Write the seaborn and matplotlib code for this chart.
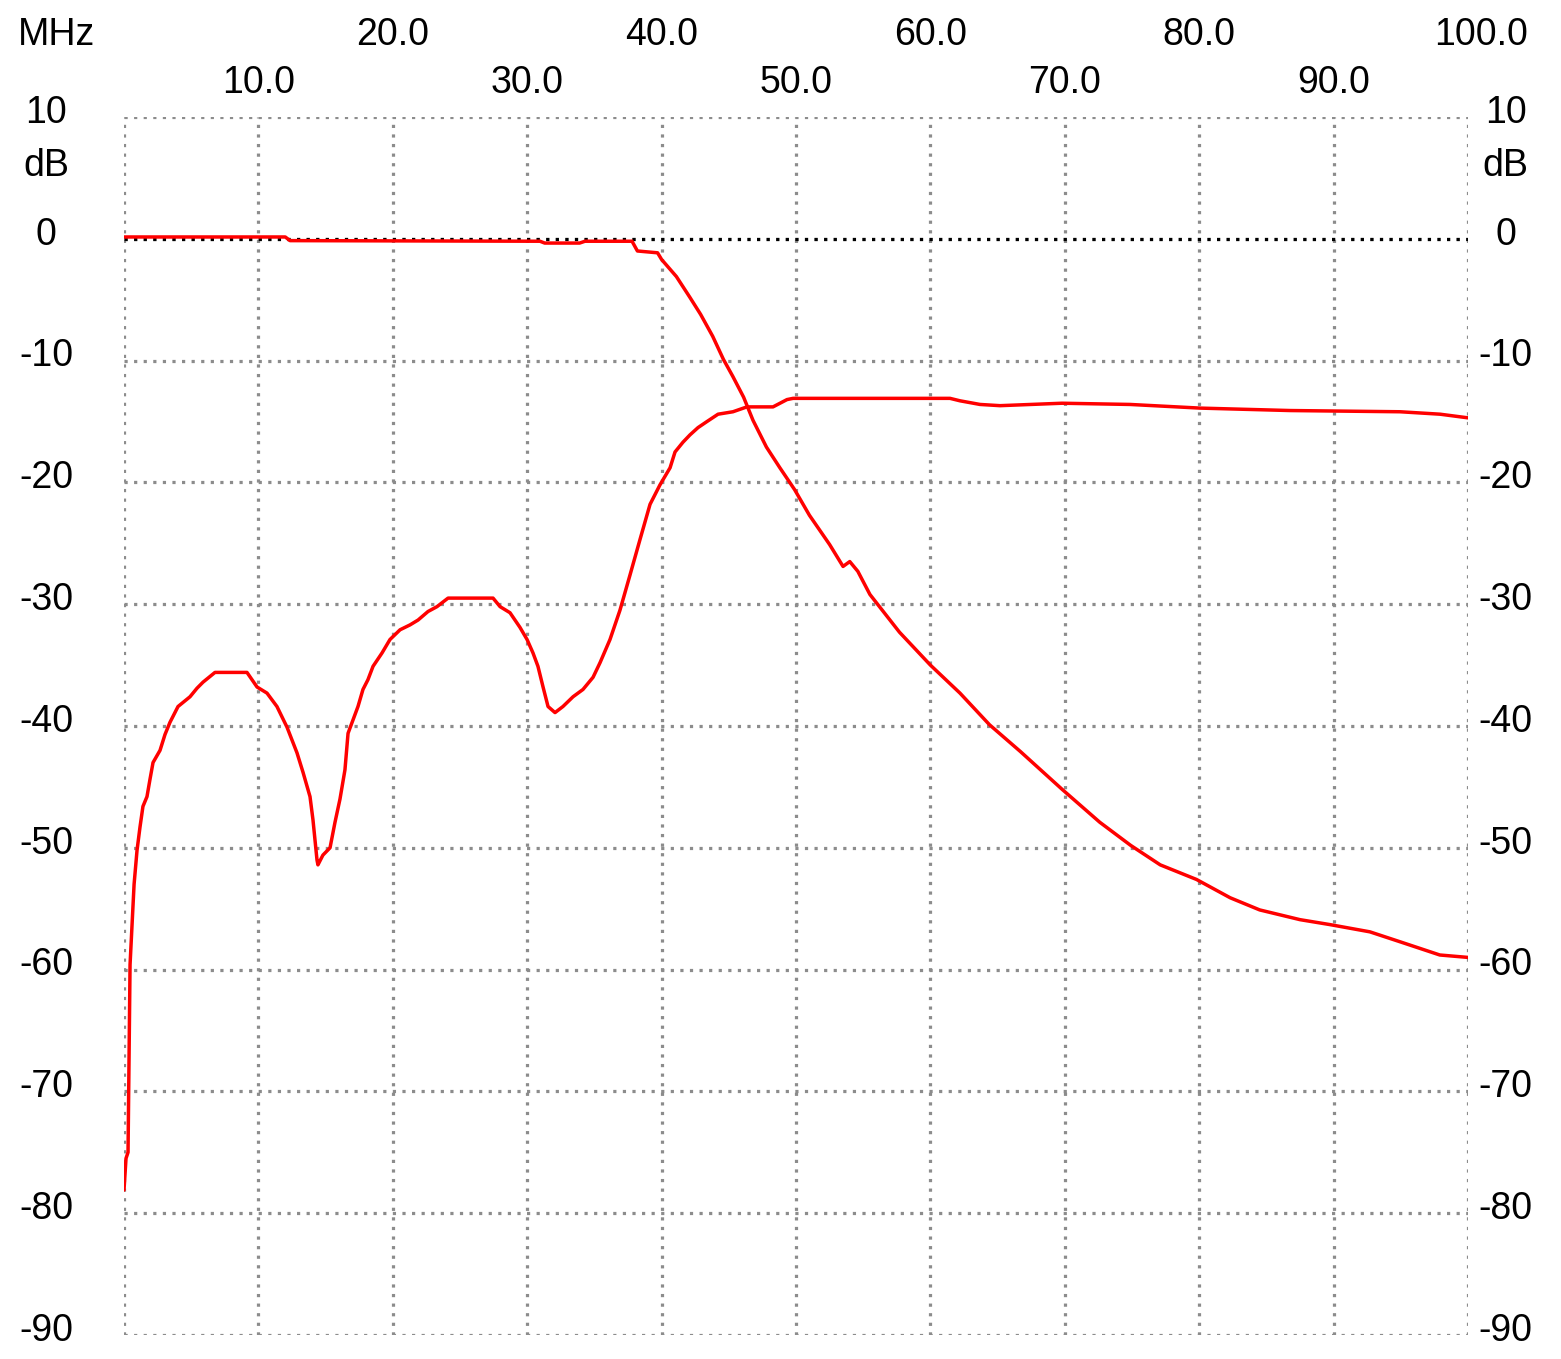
import numpy as np
import pandas as pd
import seaborn as sns
import matplotlib.pyplot as plt

# S21 (pass curve), frequency in MHz / level in dB
f_s21 = [0.0, 12.0, 12.35, 30.95, 31.3, 33.9, 34.3, 37.8, 38.2, 39.7, 40.0, 41.1,
         42.1, 42.9, 43.8, 44.6, 45.3, 46.1, 46.8, 47.8, 48.8, 49.9, 51.0, 52.5,
         53.5, 54.0, 54.6, 55.5, 57.7, 60.0, 62.2, 64.4, 66.7, 69.8, 72.6, 74.9,
         77.1, 79.8, 82.3, 84.5, 87.5, 89.7, 92.7, 94.9, 97.9, 100.0]
db_s21 = [0.15, 0.15, -0.15, -0.2, -0.35, -0.35, -0.2, -0.2, -1.0, -1.15, -1.7, -3.1,
          -4.8, -6.2, -8.0, -9.9, -11.3, -13.0, -14.9, -17.1, -18.8, -20.6, -22.7, -25.1,
          -26.9, -26.5, -27.3, -29.2, -32.3, -35.0, -37.3, -39.9, -42.1, -45.2, -47.9, -49.8,
          -51.4, -52.6, -54.1, -55.1, -55.9, -56.3, -56.9, -57.7, -58.8, -59.0]

# S11 (return curve)
f_s11 = [0.0, 0.15, 0.3, 0.45, 0.75, 0.97, 1.19, 1.41, 1.71, 1.93, 2.16, 2.68, 3.05,
         3.42, 4.02, 4.91, 5.43, 5.88, 6.77, 9.15, 9.9, 10.64, 11.38, 12.13, 12.87,
         13.32, 13.84, 14.06, 14.36, 14.43, 14.8, 15.33, 15.7, 16.07, 16.44, 16.67,
         17.04, 17.41, 17.78, 18.15, 18.53, 19.2, 19.79, 20.54, 21.28, 21.88, 22.62,
         23.29, 24.11, 27.46, 27.98, 28.72, 29.46, 29.99, 30.43, 30.8, 31.18, 31.55,
         32.07, 32.66, 33.41, 34.15, 34.9, 35.42, 36.16, 36.9, 37.65, 38.39, 39.14,
         39.88, 40.63, 41.0, 41.59, 42.11, 42.71, 43.38, 44.2, 45.31, 46.35, 48.29,
         49.33, 49.78, 51.79, 61.46, 62.2, 63.69, 65.18, 69.79, 74.85, 80.06, 86.76,
         94.94, 97.92, 100.0]
db_s11 = [-78.1, -75.5, -75.0, -59.6, -53.0, -50.2, -48.3, -46.6, -45.8, -44.4, -43.0,
          -42.0, -40.7, -39.7, -38.4, -37.6, -36.9, -36.4, -35.6, -35.6, -36.8, -37.3,
          -38.4, -40.1, -42.2, -43.8, -45.8, -47.7, -51.0, -51.4, -50.6, -50.0, -47.9,
          -46.0, -43.6, -40.6, -39.5, -38.4, -37.0, -36.2, -35.1, -34.0, -32.9, -32.1,
          -31.7, -31.3, -30.6, -30.2, -29.5, -29.5, -30.2, -30.7, -31.9, -32.9, -34.0,
          -35.1, -36.8, -38.4, -38.9, -38.4, -37.6, -37.0, -36.0, -34.8, -32.9, -30.5,
          -27.6, -24.7, -21.8, -20.2, -18.8, -17.5, -16.7, -16.1, -15.5, -15.0, -14.4,
          -14.2, -13.8, -13.8, -13.2, -13.1, -13.1, -13.1, -13.3, -13.6, -13.7, -13.5,
          -13.6, -13.9, -14.1, -14.2, -14.4, -14.7]

x_ticks = list(range(0, 101, 10))
y_ticks = list(range(-90, 11, 10))

df21 = pd.DataFrame({'MHz': f_s21, 'dB': db_s21})
df11 = pd.DataFrame({'MHz': f_s11, 'dB': db_s11})

sns.set_theme(style="white")
plt.rcParams['font.family'] = ['Liberation Sans', 'DejaVu Sans']

fig = plt.figure(figsize=(15.61, 13.59), dpi=100)
ax = fig.add_axes([124 / 1561, 1 - 1335 / 1359, (1468 - 124) / 1561, (1335 - 117) / 1359])

# dotted grid, drawn as lines so the edges look the same as the inner cells
grid_kw = dict(lw=2.3, linestyle=(0, (1, 2)), dash_capstyle='butt')
for x in x_ticks:
    ax.axvline(x, color='#8c8c8c', zorder=1, **grid_kw)
for y in y_ticks:
    ax.axhline(y, color='#8c8c8c', zorder=1, **grid_kw)
ax.axhline(0, color='black', zorder=2, **grid_kw)

sns.lineplot(x='MHz', y='dB', data=df21, color='#ff0000', lw=2.5, sort=False,
             estimator=None, ax=ax, zorder=3)
sns.lineplot(x='MHz', y='dB', data=df11, color='#ff0000', lw=2.5, sort=False,
             estimator=None, ax=ax, zorder=3)

ax.set_xlim(0, 100)
ax.set_ylim(-90, 10)
ax.set_xticks([])
ax.set_yticks([])
ax.set_xlabel('')
ax.set_ylabel('')
for s in ax.spines.values():
    s.set_visible(False)

fs = 27
txt = dict(ha='center', va='center', fontsize=fs, color='black', clip_on=False)
# top frequency labels, staggered in two rows
for x in x_ticks[1:]:
    yy = 16.7 if x % 20 == 0 else 12.8
    xx = x + 1.0 if x == 100 else x
    ax.text(xx, yy, f'{x:.1f}', **txt)
ax.text(-5.0, 16.7, 'MHz', **txt)

# left and right dB labels
for y in y_ticks:
    ax.text(-5.8, y + 0.35, f'{y}', **txt)
    ax.text(102.8, y + 0.35, f'{y}', **txt)
ax.text(-5.8, 6.0, 'dB', **txt)
ax.text(102.8, 6.0, 'dB', **txt)

fig.savefig('out.png', dpi=100, facecolor='white')
